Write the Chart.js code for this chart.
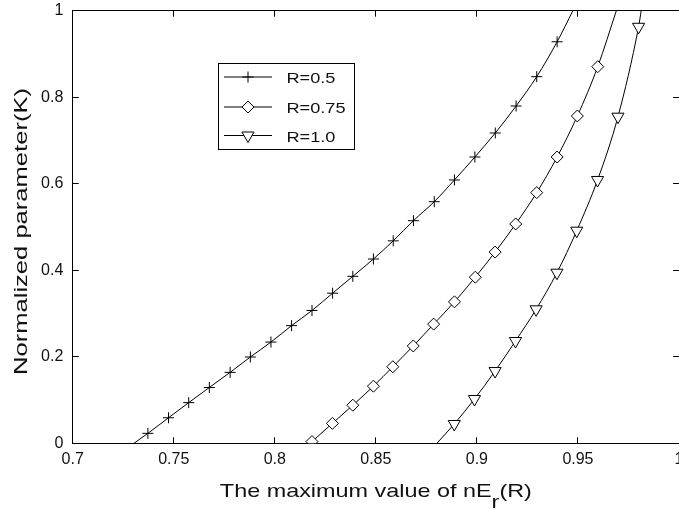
<!DOCTYPE html>
<html>
<head>
<meta charset="utf-8">
<script src="https://cdn.jsdelivr.net/npm/chart.js@4/dist/chart.umd.min.js"></script>
<style>
  html, body { margin: 0; padding: 0; background: #fff; }
  #chart { display: block; }
</style>
</head>
<body>
<canvas id="chart" width="679" height="510"></canvas>
<script>
const xTicks = [0.7, 0.75, 0.8, 0.85, 0.9, 0.95, 1];
const xTickLabels = ['0.7', '0.75', '0.8', '0.85', '0.9', '0.95', '1'];
const yTicks = [0, 0.2, 0.4, 0.6, 0.8, 1];
const yTickLabels = ['0', '0.2', '0.4', '0.6', '0.8', '1'];

const seriesNames = ['R=0.5', 'R=0.75', 'R=1.0'];

// first and last entries are where a curve meets the frame, no marker there
const r05X = [0.7303, 0.7372, 0.7474, 0.7574, 0.7676, 0.7779, 0.7879, 0.7981, 0.8083, 0.8184, 0.8286,
    0.8386, 0.8488, 0.8586, 0.8686, 0.8789, 0.8889, 0.8990, 0.9091, 0.9194, 0.9296, 0.9397, 0.9475];
const r05K = [0, 0.023, 0.059, 0.094, 0.129, 0.164, 0.1995, 0.234, 0.272, 0.307, 0.347,
    0.386, 0.426, 0.468, 0.5146, 0.5585, 0.6087, 0.6618, 0.7173, 0.7797, 0.8475, 0.9282, 1];

const r075X = [0.8174, 0.8184, 0.8285, 0.8386, 0.8488, 0.8584, 0.8685, 0.8786, 0.8889, 0.8992,
    0.9090, 0.9192, 0.9296, 0.9397, 0.9497, 0.9598, 0.9690];
const r075K = [0, 0.004, 0.046, 0.088, 0.132, 0.177, 0.225, 0.2755, 0.327, 0.384,
    0.442, 0.507, 0.5795, 0.6618, 0.7566, 0.8706, 1];

const r10X = [0.8802, 0.8888, 0.8988, 0.9090, 0.9191, 0.9293, 0.9396, 0.9494, 0.9597, 0.9698, 0.9800, 0.9813];
const r10K = [0, 0.0446, 0.1024, 0.167, 0.2365, 0.3097, 0.3944, 0.4915, 0.6087, 0.755, 0.9628, 1];

const FONT = '"Liberation Sans", Arial, Helvetica, sans-serif';
const INK = '#111';

function toPoints(xs, ks) {
    return xs.map((x, i) => ({ x: x, y: ks[i] }));
}

function makeSeries(label, xs, ks, style, size, rotation) {
    const last = xs.length - 1;
    return {
        label: label,
        data: toPoints(xs, ks),
        borderColor: '#000',
        borderWidth: 1,
        pointStyle: style,
        pointRotation: rotation,
        markerSize: size,
        pointRadius: ctx => (ctx.dataIndex === 0 || ctx.dataIndex === last) ? 0 : size,
        pointBorderColor: '#000',
        pointBackgroundColor: '#fff',
        pointBorderWidth: 1,
        cubicInterpolationMode: 'monotone',
        fill: false
    };
}

const axisTitles = {
    id: 'axisTitles',
    afterDraw(chart) {
        const ctx = chart.ctx;
        const area = chart.chartArea;
        ctx.save();
        ctx.fillStyle = INK;
        ctx.font = '19px ' + FONT;
        ctx.textBaseline = 'alphabetic';
        ctx.textAlign = 'left';

        // x title with subscript r
        const a = 'The maximum value of nE', b = 'r', c = '(R)';
        const wa = ctx.measureText(a).width;
        const wb = ctx.measureText(b).width;
        const wc = ctx.measureText(c).width;
        const total = 312;
        const s = total / (wa + wb + wc);
        const cx = (area.left + area.right) / 2;
        ctx.save();
        ctx.translate(cx - total / 2, 496.5);
        ctx.scale(s, 1);
        ctx.fillText(a, 0, 0);
        ctx.fillText(b, wa, 11);
        ctx.fillText(c, wa + wb, 0);
        ctx.restore();

        // y title
        const yt = 'Normalized parameter(K)';
        const sy = 287 / ctx.measureText(yt).width;
        ctx.save();
        ctx.translate(26.5, (area.top + area.bottom) / 2 + 4.5);
        ctx.rotate(-Math.PI / 2);
        ctx.scale(sy, 1);
        ctx.textAlign = 'center';
        ctx.fillText(yt, 0, 0);
        ctx.restore();
        ctx.restore();
    }
};

const boxLegend = {
    id: 'boxLegend',
    afterDraw(chart) {
        const ctx = chart.ctx;
        const rows = [77, 107, 135.5];
        ctx.save();
        ctx.fillStyle = '#fff';
        ctx.fillRect(218, 63, 136, 86);
        ctx.strokeStyle = '#000';
        ctx.lineWidth = 1;
        ctx.strokeRect(218.5, 63.5, 136, 86);
        chart.data.datasets.forEach((ds, i) => {
            const y = rows[i];
            ctx.strokeStyle = '#000';
            ctx.lineWidth = 1;
            ctx.beginPath();
            ctx.moveTo(224, y);
            ctx.lineTo(272, y);
            ctx.stroke();
            ctx.fillStyle = '#fff';
            Chart.helpers.drawPoint(ctx, {
                pointStyle: ds.pointStyle,
                rotation: ds.pointRotation,
                radius: ds.markerSize,
                borderWidth: 1
            }, 248, y);
            ctx.save();
            ctx.fillStyle = INK;
            ctx.font = '15px ' + FONT;
            ctx.textAlign = 'left';
            ctx.textBaseline = 'alphabetic';
            ctx.translate(286.5, y + 6);
            ctx.scale(1.21, 1);
            ctx.fillText(ds.label, 0, 0);
            ctx.restore();
        });
        ctx.restore();
    }
};

function tickAxis(position, ticks, labels, min, max, showLabels, pad, size) {
    const horizontal = position === 'top' || position === 'bottom';
    return {
        type: 'linear',
        position: position,
        min: min,
        max: max,
        afterBuildTicks: scale => { scale.ticks = ticks.map(v => ({ value: v })); },
        afterFit: scale => {
            if (horizontal) scale.height = size; else scale.width = size;
            // keep the frame where the figure has it, labels may hang over
            scale.paddingLeft = 0;
            scale.paddingRight = 0;
            scale.paddingTop = 0;
            scale.paddingBottom = 0;
        },
        ticks: {
            display: showLabels,
            callback: (v, i) => labels[i],
            font: { family: FONT, size: 16 },
            color: INK,
            padding: pad,
            maxRotation: 0,
            autoSkip: false
        },
        grid: { drawOnChartArea: false, tickLength: -6, color: '#000', lineWidth: 1 },
        border: { display: position !== 'right', color: '#000', width: 1 }
    };
}

new Chart(document.getElementById('chart'), {
    type: 'line',
    data: {
        datasets: [
            makeSeries(seriesNames[0], r05X, r05K, 'cross', 5.5, 0),
            makeSeries(seriesNames[1], r075X, r075K, 'rectRot', 6, 0),
            makeSeries(seriesNames[2], r10X, r10K, 'triangle', 7, 180)
        ]
    },
    options: {
        responsive: false,
        animation: false,
        layout: { autoPadding: false, padding: { top: 10.7, left: 0, right: 0, bottom: 0 } },
        plugins: { legend: { display: false }, tooltip: { enabled: false } },
        scales: {
            x: tickAxis('bottom', xTicks, xTickLabels, 0.7, 1, true, 13, 66.7),
            y: tickAxis('left', yTicks, yTickLabels, 0, 1, true, 15.4, 72.7),
            x2: tickAxis('top', xTicks, xTickLabels, 0.7, 1, false, 0, 0),
            y2: tickAxis('right', yTicks, yTickLabels, 0, 1, false, 0, 0)
        }
    },
    plugins: [axisTitles, boxLegend]
});
</script>
</body>
</html>
